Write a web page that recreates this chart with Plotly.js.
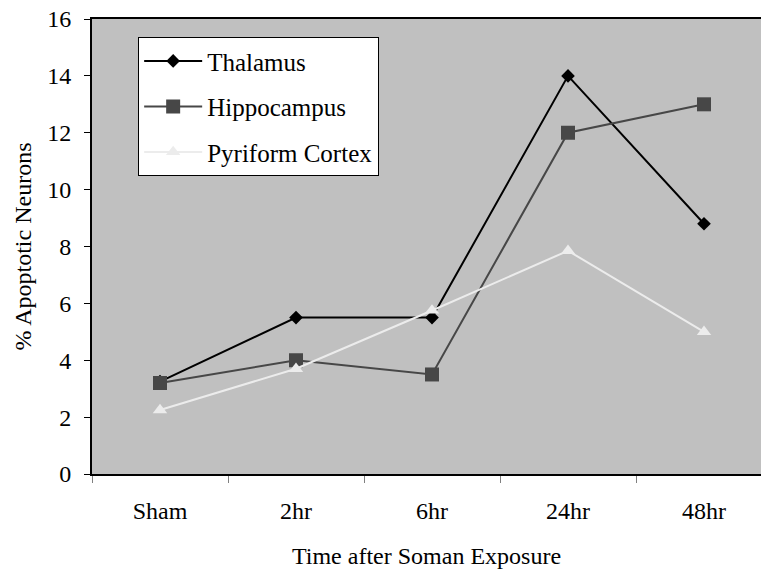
<!DOCTYPE html>
<html>
<head>
<meta charset="utf-8">
<script src="https://cdn.plot.ly/plotly-3.0.1.min.js"></script>
<style>html,body{margin:0;padding:0;background:#fff;}#chart{width:761px;height:569px;}</style>
</head>
<body>
<div id="chart"></div>
<script>
const categories = ["Sham", "2hr", "6hr", "24hr", "48hr"];
const thalamus = [3.25, 5.5, 5.5, 14.0, 8.8];
const hippocampus = [3.2, 4.0, 3.5, 12.0, 13.0];
const pyriformCortex = [2.25, 3.7, 5.75, 7.85, 5.0];
const yTicks = [0, 2, 4, 6, 8, 10, 12, 14, 16];

const font = "Liberation Serif";

const traces = [
  {x: categories, y: thalamus, name: "Thalamus", type: "scatter", mode: "lines+markers",
   legendgroup: "a",
   line: {color: "#000000", width: 2}, marker: {symbol: "diamond", size: 10.5, color: "#000000"}},
  {x: categories, y: hippocampus, name: "Hippocampus", type: "scatter", mode: "lines+markers",
   legendgroup: "b",
   line: {color: "#474747", width: 2}, marker: {symbol: "square", size: 14, color: "#474747"}},
  {x: categories, y: pyriformCortex, name: "Pyriform Cortex", type: "scatter", mode: "lines+markers",
   legendgroup: "c",
   line: {color: "#ececec", width: 2}, marker: {symbol: "triangle-up", size: 12.5, color: "#ececec"}}
];

const layout = {
  width: 761, height: 569,
  margin: {l: 92, r: 0, t: 19, b: 95, pad: 0},
  paper_bgcolor: "#ffffff",
  plot_bgcolor: "#c0c0c0",
  font: {family: font, size: 24, color: "#000000"},
  showlegend: true,
  legend: {
    x: 0.069, y: 0.96, xanchor: "left", yanchor: "top",
    bgcolor: "#ffffff", bordercolor: "#000000", borderwidth: 1,
    font: {family: font, size: 25, color: "#000000"},
    traceorder: "grouped", tracegroupgap: 10, itemwidth: 58
  },
  xaxis: {
    type: "category",
    range: [-0.5, 4.419],
    showgrid: false, zeroline: false,
    showline: true, linecolor: "#000000", linewidth: 2, mirror: true,
    ticks: "outside", tickson: "boundaries", ticklen: 7, tickcolor: "#808080", tickwidth: 1,
    ticklabelstandoff: 14,
    tickfont: {family: font, size: 24, color: "#000000"},
    title: {text: "Time after Soman Exposure", font: {family: font, size: 24, color: "#000000"}, standoff: 24}
  },
  yaxis: {
    range: [0, 16],
    tickvals: yTicks,
    showgrid: false, zeroline: false,
    showline: true, linecolor: "#000000", linewidth: 2,
    ticks: "outside", ticklen: 6, tickcolor: "#000000", tickwidth: 1,
    ticklabelstandoff: 8,
    tickfont: {family: font, size: 24, color: "#000000"},
    title: {text: "% Apoptotic Neurons", font: {family: font, size: 24, color: "#000000"}, standoff: 9}
  }
};

Plotly.newPlot("chart", traces, layout, {displayModeBar: false, staticPlot: true});
</script>
</body>
</html>
